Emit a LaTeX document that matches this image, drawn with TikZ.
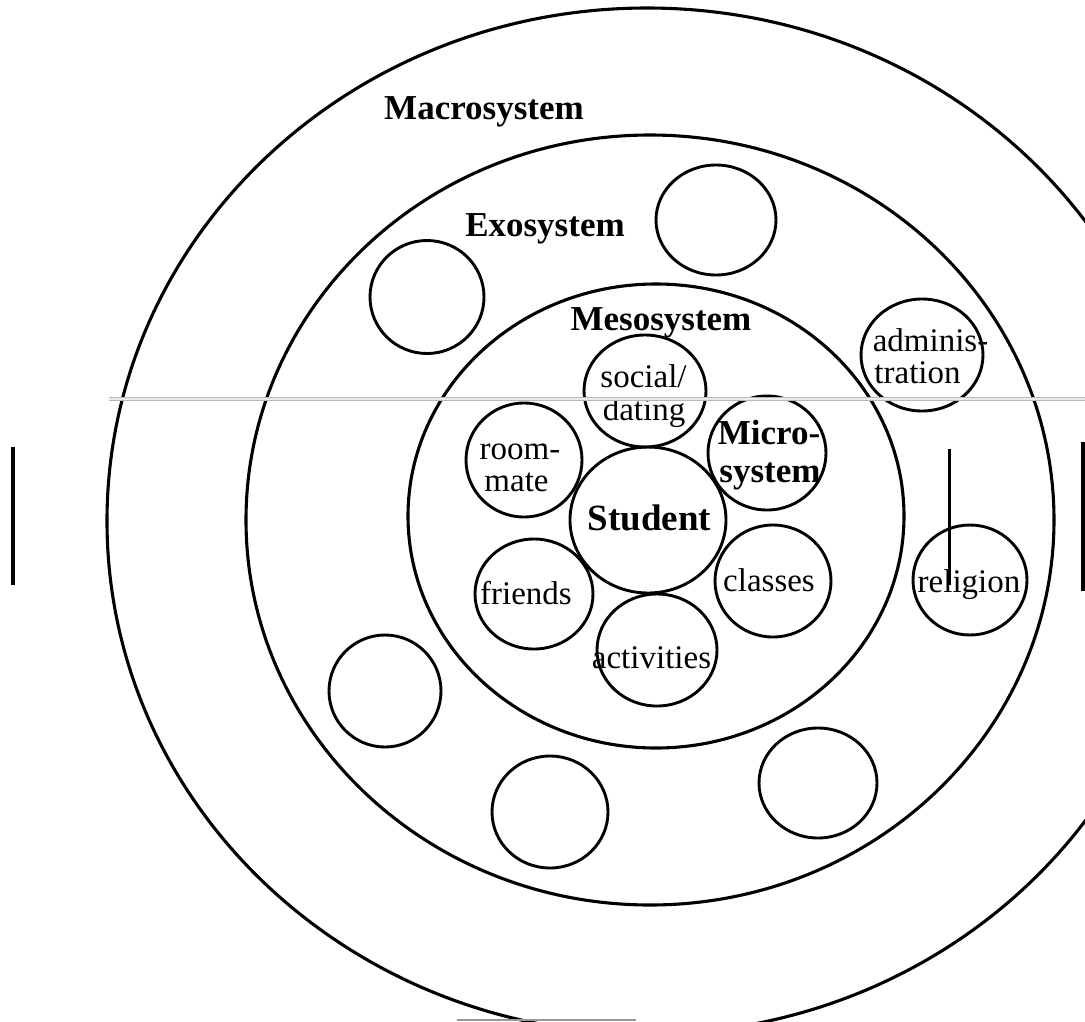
\documentclass[tikz,border=0pt]{standalone}
\usepackage{fontspec}
\setmainfont{Liberation Serif}
\usetikzlibrary{shapes.geometric}
\tikzset{
  orb/.style={draw, ellipse, line width=2.9pt, inner sep=0pt, outer sep=0pt},
  sphere/.style={orb, line width=3.1pt},
  lbl/.style={inner sep=0pt, anchor=base, font=\fontsize{33}{38}\selectfont},
  syslbl/.style={inner sep=0pt, anchor=base, font=\fontsize{35}{40}\selectfont\bfseries},
  stulbl/.style={inner sep=0pt, anchor=base, font=\fontsize{37}{42}\selectfont\bfseries},
  scanbar/.style={line width=3.5pt},
}
\begin{document}
\begin{tikzpicture}[x=1pt,y=-1pt]
\useasboundingbox (0,0) rectangle (1085,1021);
\clip (0,0) rectangle (1085,1021);
\fill[white] (0,0) rectangle (1085,1021);

% system rings
\node[sphere, minimum width=1080pt, minimum height=1026pt] (macro) at (647,521) {};
\node[sphere, minimum width=808pt, minimum height=770pt] (exo) at (650,520) {};
\node[sphere, minimum width=496pt, minimum height=464pt] (meso) at (656,516) {};

% exosystem circles
\node[orb, minimum width=120pt, minimum height=110pt] (exoA) at (716,220) {};
\node[orb, minimum width=114pt, minimum height=113pt] (exoB) at (427,297) {};
\node[orb, minimum width=112pt, minimum height=112pt] (exoC) at (385,691) {};
\node[orb, minimum width=116pt, minimum height=112pt] (exoD) at (550,812) {};
\node[orb, minimum width=118pt, minimum height=110pt] (exoE) at (818,783) {};
\node[orb, minimum width=114pt, minimum height=110pt] (religion) at (970,580) {};
\node[orb, minimum width=122pt, minimum height=112pt] (admin) at (922,355) {};

% microsystem circles
\node[orb, minimum width=156pt, minimum height=146pt] (student) at (648,520) {};
\node[orb, minimum width=116pt, minimum height=114pt] (roommate) at (524,460) {};
\node[orb, minimum width=118pt, minimum height=110pt] (friends) at (534,594) {};
\node[orb, minimum width=120pt, minimum height=112pt] (activities) at (657,650) {};
\node[orb, minimum width=122pt, minimum height=112pt] (social) at (645,391) {};
\node[orb, minimum width=118pt, minimum height=114pt] (micro) at (767,453) {};
\node[orb, minimum width=116pt, minimum height=112pt] (classes) at (773,581) {};

% labels
\node[syslbl] (tmacro) at (484,119) {Macrosystem};
\node[syslbl] (texo) at (545,236) {Exosystem};
\node[syslbl] (tmeso) at (661,330) {Mesosystem};
\node[stulbl] (tstudent) at (649.5,530) {Student};
\node[syslbl] (tmicroA) at (769,444) {Micro-};
\node[syslbl] (tmicroB) at (770,482) {system};
\node[lbl] (tsocA) at (643.5,387) {social/};
\node[lbl] (tsocB) at (644,420) {dating};
\node[lbl] (troomA) at (520,459) {room-};
\node[lbl] (troomB) at (516.5,491) {mate};
\node[lbl] (tfriends) at (526,604) {friends};
\node[lbl] (tact) at (651.5,668) {activities};
\node[lbl] (tclasses) at (769,591) {classes};
\node[lbl] (tadmA) at (930.5,351) {adminis-};
\node[lbl] (tadmB) at (917.5,383) {tration};
\node[lbl] (trel) at (969,592) {religion};

% scan artefacts
\coordinate (gA) at (109,398.8);
\coordinate (gB) at (1085,398.8);
\draw[line width=4.4pt, black!28] (gA) -- (gB);
\draw[line width=1.4pt, black!8] (gA) -- (gB);
\coordinate (bA) at (13,447);
\coordinate (bB) at (13,585);
\draw[scanbar] (bA) -- (bB);
\coordinate (cA) at (949.5,449);
\coordinate (cB) at (949.5,585);
\draw[line width=2.5pt] (cA) -- (cB);
\coordinate (dA) at (1083,442);
\coordinate (dB) at (1083,591);
\draw[line width=4pt] (dA) -- (dB);
\coordinate (eA) at (457,1019.8);
\coordinate (eB) at (636,1019.8);
\draw[line width=1.5pt, black!40] (eA) -- (eB);
\end{tikzpicture}
\end{document}
